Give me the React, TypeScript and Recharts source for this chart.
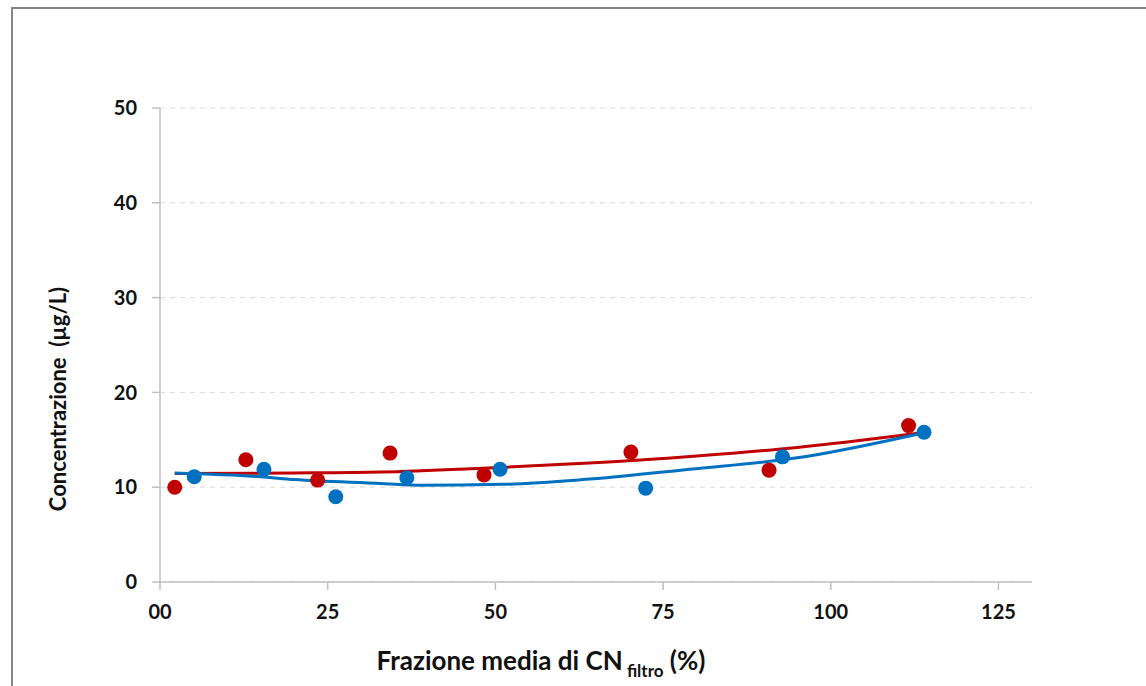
import React from 'react';
import {
  ComposedChart,
  Scatter,
  Line,
  XAxis,
  YAxis,
  CartesianGrid,
  Label,
} from 'recharts';

// measured points (x = frazione media %, y = concentrazione µg/L)
const redX = [2.2, 12.8, 23.5, 34.3, 48.3, 70.2, 90.8, 111.6];
const redY = [10.0, 12.9, 10.75, 13.6, 11.3, 13.7, 11.8, 16.5];
const blueX = [5.1, 15.5, 26.2, 36.8, 50.7, 72.4, 92.8, 113.9];
const blueY = [11.1, 11.9, 9.0, 11.0, 11.9, 9.9, 13.2, 15.8];

// trend lines
const redTrendX = [2.2, 20, 33, 48, 64, 80, 95, 113];
const redTrendY = [11.45, 11.5, 11.6, 12.0, 12.55, 13.3, 14.2, 15.7];
const blueTrendX = [2.2, 15, 20, 33, 39, 51, 63, 79, 95, 113.6];
const blueTrendY = [11.5, 11.1, 10.8, 10.4, 10.2, 10.3, 10.8, 11.9, 13.1, 15.7];

const xTicks = [0, 25, 50, 75, 100, 125];
const xTickLabels = ['00', '25', '50', '75', '100', '125'];
const yTicks = [0, 10, 20, 30, 40, 50];

const RED = '#C00000';
const BLUE = '#0070C0';
const FONT = 'Lato, "Open Sans", sans-serif';

const zip = (xs: number[], ys: number[]) => xs.map((x, i) => ({ x, y: ys[i] }));

const redPts = zip(redX, redY);
const bluePts = zip(blueX, blueY);
const redTrend = zip(redTrendX, redTrendY);
const blueTrend = zip(blueTrendX, blueTrendY);

const dot = (color: string) => (props: any) => (
  <circle cx={props.cx} cy={props.cy} r={7.5} fill={color} />
);

const tickStyle = { fontSize: 20, fontWeight: 700, fill: '#111', fontFamily: FONT };

const App: React.FC = () => {
  return (
    <div style={{ position: 'absolute', left: 0, top: 0, width: 1146, height: 686, background: '#fff', overflow: 'hidden' }}>
      <div
        style={{
          position: 'absolute',
          left: 11,
          top: 7,
          width: 1200,
          height: 700,
          borderTop: '2px solid #858585',
          borderLeft: '2px solid #858585',
        }}
      />
      <ComposedChart
        width={1146}
        height={686}
        margin={{ top: 108, right: 114, left: 100, bottom: 64 }}
        style={{ position: 'absolute', left: 0, top: 0 }}
      >
        <CartesianGrid vertical={false} stroke="#d9d9d9" strokeDasharray="5 5" />
        <XAxis
          type="number"
          dataKey="x"
          domain={[0, 130]}
          ticks={xTicks}
          tickFormatter={(v: number) => xTickLabels[xTicks.indexOf(v)] ?? String(v)}
          axisLine={{ stroke: '#bfbfbf', strokeWidth: 1.5 }}
          tickLine={{ stroke: '#bfbfbf', strokeWidth: 1.5 }}
          tickSize={8}
          tickMargin={15}
          tick={tickStyle}
          height={40}
          allowDataOverflow
        >
          <Label
            content={() => (
              <text x={541} y={670} textAnchor="middle" fontFamily={FONT} fontWeight={700} fontSize={26} fill="#111">
                Frazione media di CN
                <tspan fontSize={17} dy={7}> filtro</tspan>
                <tspan dy={-7}> (%)</tspan>
              </text>
            )}
          />
        </XAxis>
        <YAxis
          type="number"
          dataKey="y"
          domain={[0, 50]}
          ticks={yTicks}
          axisLine={{ stroke: '#bfbfbf', strokeWidth: 1.5 }}
          tickLine={{ stroke: '#bfbfbf', strokeWidth: 1.5 }}
          tickSize={8}
          tickMargin={15}
          tick={tickStyle}
          width={60}
        >
          <Label
            content={() => (
              <text
                x={66}
                y={399}
                transform="rotate(-90, 66, 399)"
                textAnchor="middle"
                fontFamily={FONT}
                fontWeight={700}
                fontSize={22}
                fill="#111"
                style={{ whiteSpace: 'pre' }}
              >
                {'Concentrazione  (µg/L)'}
              </text>
            )}
          />
        </YAxis>
        <Line
          data={redTrend}
          dataKey="y"
          type="monotone"
          stroke={RED}
          strokeWidth={3}
          dot={false}
          activeDot={false}
          isAnimationActive={false}
        />
        <Line
          data={blueTrend}
          dataKey="y"
          type="monotone"
          stroke={BLUE}
          strokeWidth={3}
          dot={false}
          activeDot={false}
          isAnimationActive={false}
        />
        <Scatter data={redPts} dataKey="y" shape={dot(RED)} isAnimationActive={false} />
        <Scatter data={bluePts} dataKey="y" shape={dot(BLUE)} isAnimationActive={false} />
      </ComposedChart>
    </div>
  );
};

export default App;
